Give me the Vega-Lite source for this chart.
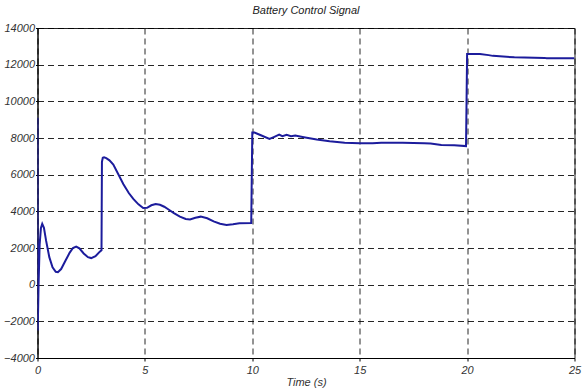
{
  "$schema": "https://vega.github.io/schema/vega-lite/v6.json",
  "autosize": "none",
  "width": 537,
  "height": 330,
  "padding": {"left": 37.5, "top": 28, "right": 9.5, "bottom": 30},
  "background": "white",
  "title": {"text": "Battery Control Signal", "font": "Liberation Sans", "fontSize": 11, "fontStyle": "italic", "fontWeight": "normal", "color": "#222", "offset": 6},
  "config": {
    "view": {"stroke": "#222", "strokeWidth": 1},
    "axis": {"labelFont": "Liberation Sans", "labelFontSize": 11, "labelFontStyle": "italic", "labelColor": "#333", "titleFont": "Liberation Sans", "titleFontSize": 11, "titleFontStyle": "italic", "titleFontWeight": "normal", "titleColor": "#333", "gridColor": "#000", "gridDash": [6, 4], "gridOpacity": 0.85, "gridWidth": 1, "domainColor": "#000", "tickSize": 3, "tickColor": "#000"}
  },
  "data": {"values": [
    {"t": 0, "v": 9100}, {"t": 0.01, "v": -2500}, {"t": 0.05, "v": 0}, {"t": 0.1, "v": 2200}, {"t": 0.16, "v": 3100}, {"t": 0.22, "v": 3320},
    {"t": 0.3, "v": 3100}, {"t": 0.4, "v": 2400}, {"t": 0.55, "v": 1500}, {"t": 0.7, "v": 950}, {"t": 0.85, "v": 700}, {"t": 0.95, "v": 680},
    {"t": 1.1, "v": 850}, {"t": 1.3, "v": 1300}, {"t": 1.5, "v": 1750}, {"t": 1.65, "v": 2000}, {"t": 1.8, "v": 2080}, {"t": 1.95, "v": 1980},
    {"t": 2.15, "v": 1700}, {"t": 2.35, "v": 1500}, {"t": 2.5, "v": 1450}, {"t": 2.7, "v": 1550}, {"t": 2.9, "v": 1800}, {"t": 2.98, "v": 1880},
    {"t": 3.0, "v": 6700}, {"t": 3.04, "v": 6920}, {"t": 3.1, "v": 6950}, {"t": 3.2, "v": 6900}, {"t": 3.35, "v": 6780}, {"t": 3.53, "v": 6550},
    {"t": 3.75, "v": 6050}, {"t": 4.0, "v": 5480}, {"t": 4.25, "v": 5000}, {"t": 4.46, "v": 4680}, {"t": 4.7, "v": 4380}, {"t": 4.92, "v": 4180},
    {"t": 5.1, "v": 4190}, {"t": 5.3, "v": 4330}, {"t": 5.5, "v": 4400}, {"t": 5.7, "v": 4360}, {"t": 5.9, "v": 4250}, {"t": 6.1, "v": 4100},
    {"t": 6.35, "v": 3900}, {"t": 6.63, "v": 3710}, {"t": 6.9, "v": 3580}, {"t": 7.1, "v": 3560}, {"t": 7.35, "v": 3650}, {"t": 7.6, "v": 3710},
    {"t": 7.9, "v": 3620}, {"t": 8.2, "v": 3450}, {"t": 8.5, "v": 3320}, {"t": 8.8, "v": 3260},
    {"t": 9.1, "v": 3300}, {"t": 9.4, "v": 3350}, {"t": 9.95, "v": 3360}, {"t": 10.0, "v": 8300}, {"t": 10.1, "v": 8300}, {"t": 10.4, "v": 8150},
    {"t": 10.8, "v": 7950}, {"t": 11.0, "v": 8050}, {"t": 11.25, "v": 8180}, {"t": 11.4, "v": 8100}, {"t": 11.6, "v": 8170}, {"t": 11.8, "v": 8100},
    {"t": 12.0, "v": 8130}, {"t": 12.4, "v": 8040}, {"t": 13.0, "v": 7920}, {"t": 13.6, "v": 7820}, {"t": 14.3, "v": 7740}, {"t": 15.0, "v": 7710},
    {"t": 15.6, "v": 7710}, {"t": 16.0, "v": 7740}, {"t": 17.0, "v": 7745}, {"t": 18.0, "v": 7720}, {"t": 18.3, "v": 7700}, {"t": 18.8, "v": 7620},
    {"t": 19.4, "v": 7600}, {"t": 19.95, "v": 7560}, {"t": 20.0, "v": 12580}, {"t": 20.6, "v": 12580}, {"t": 21.0, "v": 12520}, {"t": 21.2, "v": 12480},
    {"t": 22.2, "v": 12400}, {"t": 23.6, "v": 12370}, {"t": 23.7, "v": 12350}, {"t": 25.0, "v": 12345}
  ]},
  "mark": {"type": "line", "color": "#1c1c9c", "strokeWidth": 2, "clip": true},
  "encoding": {
    "x": {"field": "t", "type": "quantitative", "scale": {"domain": [0, 25], "nice": false}, "axis": {"title": "Time (s)", "values": [0, 5, 10, 15, 20, 25], "labelPadding": 3, "titlePadding": 1, "labelFlush": false}},
    "y": {"field": "v", "type": "quantitative", "scale": {"domain": [-4000, 14000], "nice": false}, "axis": {"title": null, "format": "d", "values": [-4000, -2000, 0, 2000, 4000, 6000, 8000, 10000, 12000, 14000], "labelPadding": 1, "tickSize": 2, "labelFlush": false}}
  }
}
